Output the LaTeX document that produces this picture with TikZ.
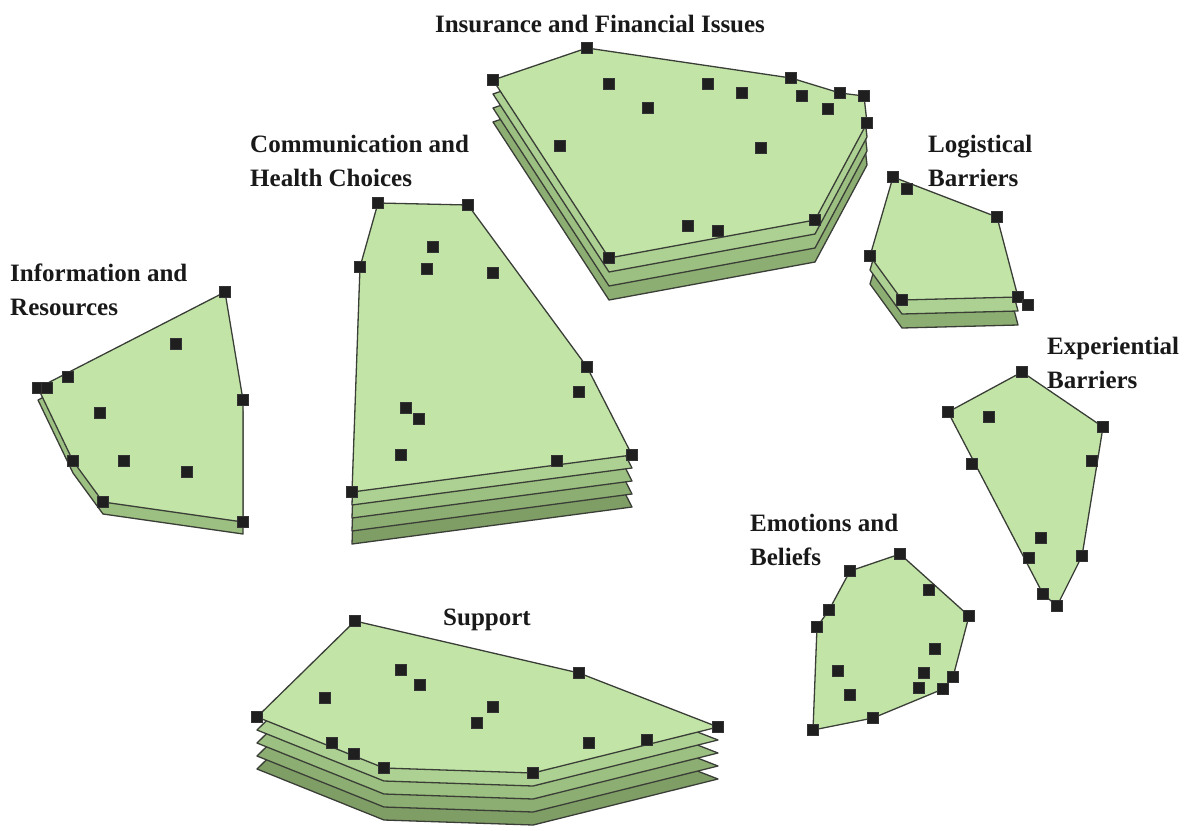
\documentclass[tikz,border=0pt]{standalone}
\usepackage{fontspec}
\setmainfont{Liberation Serif}
\definecolor{edge}{RGB}{58,62,55}
\definecolor{top}{RGB}{194,229,167}
\definecolor{layA}{RGB}{172,209,146}
\definecolor{layB}{RGB}{156,192,129}
\definecolor{layC}{RGB}{141,174,114}
\definecolor{layD}{RGB}{127,158,101}
\begin{document}
\begin{tikzpicture}[x=1pt,y=-1pt,
  face/.style={draw=edge,line width=1.3pt,line join=round},
  pt/.style={rectangle,draw=black!80,fill=black!88,line width=.8pt,minimum size=11pt,inner sep=0pt},
  lbl/.style={font=\fontsize{25}{34}\selectfont\bfseries,inner sep=0pt,align=left,text=black!90}]
\useasboundingbox (0,0) rectangle (1198,830);
% Insurance and Financial Issues
\foreach \k/\c in {3/layC,2/layB,1/layA,0/top}
  \draw[face,fill=\c,shift={(0,14*\k)}] (493,80)--(587,48)--(791,78)--(840,93)--(864,96)--(867,123)--(815,220)--(609,258)--cycle;
\foreach \x/\y [count=\n] in {493/80,587/48,791/78,840/93,864/96,867/123,815/220,609/258,609/84,648/108,708/84,742/93,802/96,828/109,560/146,761/148,688/226,718/231}
  \node[pt] (ins\n) at (\x,\y) {};
% Communication and Health Choices
\foreach \k/\c in {4/layD,3/layC,2/layB,1/layA,0/top}
  \draw[face,fill=\c,shift={(0,13*\k)}] (378,203)--(468,205)--(587,367)--(632,455)--(352,492)--(360,267)--cycle;
\foreach \x/\y [count=\n] in {378/203,468/205,587/367,632/455,352/492,360/267,557/461,433/247,427/269,493/273,579/392,406/408,419/419,401/455}
  \node[pt] (com\n) at (\x,\y) {};
% Information and Resources
\foreach \k/\c in {1/layB,0/top}
  \draw[face,fill=\c,shift={(0,12*\k)}] (225,292)--(243,400)--(243,522)--(103,502)--(73,461)--(38,388)--cycle;
\foreach \x/\y [count=\n] in {225/292,243/400,243/522,103/502,73/461,38/388,47/388,68/377,176/344,100/413,124/461,187/472}
  \node[pt] (inf\n) at (\x,\y) {};
% Logistical Barriers
\foreach \k/\c in {2/layC,1/layA,0/top}
  \draw[face,fill=\c,shift={(0,14*\k)}] (893,177)--(997,217)--(1018,297)--(902,300)--(870,256)--cycle;
\foreach \x/\y [count=\n] in {893/177,997/217,1018/297,902/300,870/256,1028/305,907/189}
  \node[pt] (log\n) at (\x,\y) {};
% Experiential Barriers
\draw[face,fill=top] (1022,372)--(1103,427)--(1082,556)--(1057,606)--(1043,594)--(948,412)--cycle;
\foreach \x/\y [count=\n] in {1022/372,1103/427,1082/556,1057/606,1043/594,948/412,989/417,972/464,1092/461,1041/538,1029/558}
  \node[pt] (exp\n) at (\x,\y) {};
% Emotions and Beliefs
\draw[face,fill=top] (900,554)--(969,616)--(953,677)--(943,689)--(873,718)--(813,730)--(817,627)--(829,610)--(850,571)--cycle;
\foreach \x/\y [count=\n] in {900/554,969/616,953/677,943/689,873/718,813/730,817/627,829/610,850/571,929/590,935/649,924/673,919/688,838/671,850/695}
  \node[pt] (emo\n) at (\x,\y) {};
% Support
\foreach \k/\c in {4/layD,3/layC,2/layB,1/layA,0/top}
  \draw[face,fill=\c,shift={(0,13*\k)}] (355,621)--(579,673)--(718,727)--(533,773)--(384,768)--(257,717)--cycle;
\foreach \x/\y [count=\n] in {355/621,579/673,718/727,533/773,384/768,257/717,332/743,354/754,647/740,589/743,401/670,420/685,325/698,493/707,477/723}
  \node[pt] (sup\n) at (\x,\y) {};
% labels
\node[lbl] (insurance) at (600,24) {Insurance and Financial Issues};
\node[lbl,anchor=west] (communication) at (250,161) {Communication and\\Health Choices};
\node[lbl,anchor=west] (information) at (10,290) {Information and\\Resources};
\node[lbl,anchor=west] (logistical) at (928,161) {Logistical\\Barriers};
\node[lbl,anchor=west] (experiential) at (1047,363) {Experiential\\Barriers};
\node[lbl,anchor=west] (emotions) at (750,540) {Emotions and\\Beliefs};
\node[lbl] (support) at (487,620) {Support};
\end{tikzpicture}
\end{document}
